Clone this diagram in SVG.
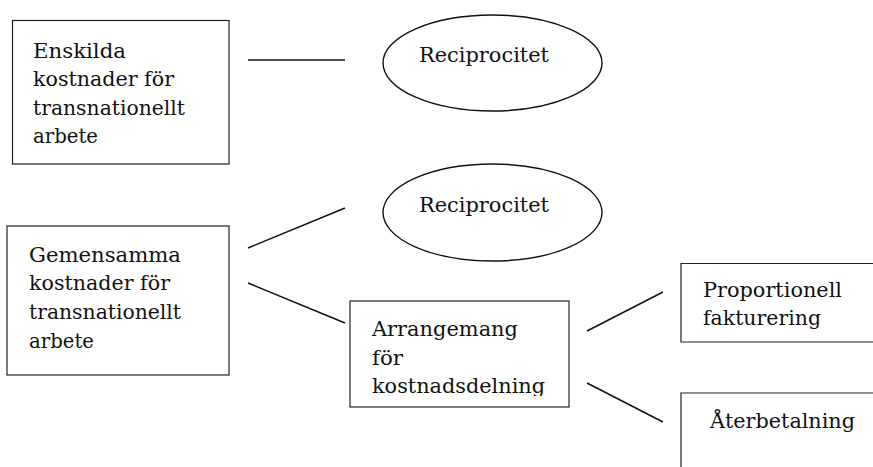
<svg xmlns="http://www.w3.org/2000/svg" width="873" height="467" viewBox="0 0 873 467">
<style>
.box{fill:#fff;stroke:#222;stroke-width:1.2}
.ell{fill:#fff;stroke:#111;stroke-width:1.4}
.lbl{font-family:'DejaVu Serif',serif;font-size:20px;fill:#111}
.con{stroke:#111;stroke-width:1.5;fill:none}
</style>
<defs>
<clipPath id="c3"><rect x="350" y="301" width="219" height="95"/></clipPath>
<clipPath id="c4"><rect x="681" y="263" width="192" height="69"/></clipPath>
</defs>
<rect width="873" height="467" fill="#fff"/>
<g id="connectors">
<line class="con" x1="248" y1="60" x2="345" y2="60"/>
<line class="con" x1="248" y1="248" x2="345" y2="208"/>
<line class="con" x1="248" y1="283" x2="345" y2="323"/>
<line class="con" x1="587" y1="331" x2="663" y2="292"/>
<line class="con" x1="587" y1="383" x2="663" y2="422"/>
</g>
<g id="enskilda">
<rect class="box" x="12.5" y="20.5" width="216.5" height="143.5"/>
<text class="lbl" x="33" y="57.5" textLength="93" lengthAdjust="spacingAndGlyphs">Enskilda</text>
<text class="lbl" x="33" y="86" textLength="141" lengthAdjust="spacingAndGlyphs">kostnader för</text>
<text class="lbl" x="33" y="114.5" textLength="152" lengthAdjust="spacingAndGlyphs">transnationellt</text>
<text class="lbl" x="33" y="143" textLength="65" lengthAdjust="spacingAndGlyphs">arbete</text>
</g>
<g id="reciprocitet1">
<ellipse class="ell" cx="492.5" cy="63" rx="109.5" ry="48"/>
<text class="lbl" x="419" y="62" textLength="130" lengthAdjust="spacingAndGlyphs">Reciprocitet</text>
</g>
<g id="reciprocitet2">
<ellipse class="ell" cx="492.5" cy="212.5" rx="109.5" ry="48.5"/>
<text class="lbl" x="419" y="212" textLength="130" lengthAdjust="spacingAndGlyphs">Reciprocitet</text>
</g>
<g id="gemensamma">
<rect class="box" x="7" y="226" width="222" height="149"/>
<text class="lbl" x="29" y="261.5" textLength="152" lengthAdjust="spacingAndGlyphs">Gemensamma</text>
<text class="lbl" x="29" y="290" textLength="141" lengthAdjust="spacingAndGlyphs">kostnader för</text>
<text class="lbl" x="29" y="318.5" textLength="152" lengthAdjust="spacingAndGlyphs">transnationellt</text>
<text class="lbl" x="29" y="347.5" textLength="65" lengthAdjust="spacingAndGlyphs">arbete</text>
</g>
<g id="arrangemang">
<rect class="box" x="350" y="301" width="219" height="106"/>
<g clip-path="url(#c3)">
<text class="lbl" x="372" y="336" textLength="146" lengthAdjust="spacingAndGlyphs">Arrangemang</text>
<text class="lbl" x="372" y="365" textLength="31" lengthAdjust="spacingAndGlyphs">för</text>
<text class="lbl" x="372" y="393" textLength="173" lengthAdjust="spacingAndGlyphs">kostnadsdelning</text>
</g>
</g>
<g id="proportionell">
<path class="box" d="M874,263.5 H681 V342 H874"/>
<g clip-path="url(#c4)">
<text class="lbl" x="703" y="297" textLength="139" lengthAdjust="spacingAndGlyphs">Proportionell</text>
<text class="lbl" x="703" y="325" textLength="118" lengthAdjust="spacingAndGlyphs">fakturering</text>
</g>
</g>
<g id="aterbetalning">
<path class="box" d="M681,468 V393 H874"/>
<text class="lbl" x="710" y="428" textLength="145" lengthAdjust="spacingAndGlyphs">Återbetalning</text>
</g>
</svg>
